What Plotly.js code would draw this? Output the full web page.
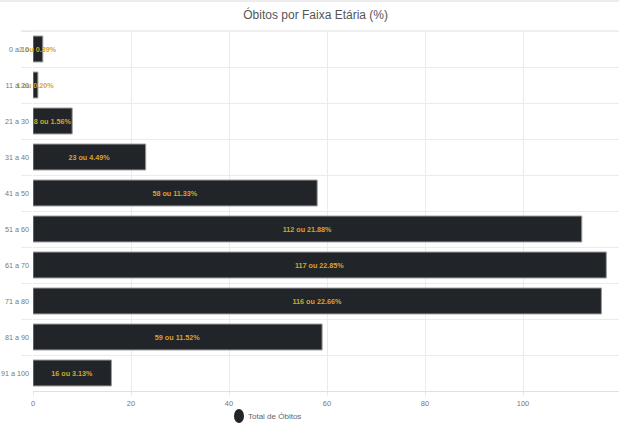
<!DOCTYPE html>
<html>
<head>
<meta charset="utf-8">
<script src="https://cdn.plot.ly/plotly-3.0.1.min.js"></script>
<style>
html,body{margin:0;padding:0;overflow:hidden;background:#fff;width:619px;height:435px;}
#chart{width:625px;height:435px;}
</style>
</head>
<body>
<div id="chart"></div>
<script>
const categories = ["0 a 10","11 a 20","21 a 30","31 a 40","41 a 50","51 a 60","61 a 70","71 a 80","81 a 90","91 a 100"];
const deaths = [2, 1, 8, 23, 58, 112, 117, 116, 59, 16];
const percents = ["0.39","0.20","1.56","4.49","11.33","21.88","22.85","22.66","11.52","3.13"];
const xTicks = [0, 20, 40, 60, 80, 100, 120];
const seriesName = "Total de Óbitos";

const FONT = "'Liberation Sans', Arial, sans-serif";

const traces = [
  {
    type: 'bar',
    orientation: 'h',
    y: categories,
    x: deaths,
    customdata: percents,
    texttemplate: '%{x} ou %{customdata}%',
    textposition: 'inside',
    insidetextanchor: 'middle',
    textangle: 0,
    constraintext: 'none',
    cliponaxis: false,
    textfont: {family: FONT, size: 7.2, color: '#d7a626', weight: 'bold'},
    marker: {color: '#212428', line: {color: '#9a9a9a', width: 1}},
    showlegend: false,
    hoverinfo: 'none'
  }
];

const layout = {
  width: 625,
  height: 435,
  margin: {l: 33, r: 4, t: 31, b: 44},
  paper_bgcolor: '#fff',
  plot_bgcolor: '#fff',
  font: {family: FONT, color: '#666'},
  title: {
    text: 'Óbitos por Faixa Etária (%)',
    font: {family: FONT, size: 12, color: '#555'},
    x: 0.505, xanchor: 'center',
    y: 0.965, yanchor: 'middle'
  },
  bargap: 0.28,
  xaxis: {
    range: [0, 120],
    tickvals: xTicks,
    ticktext: xTicks.map(String),
    showgrid: true,
    gridcolor: '#ebebeb',
    zeroline: false,
    showline: true,
    linecolor: '#e0e0e0',
    ticks: 'outside',
    ticklen: 4,
    tickcolor: '#ebebeb',
    ticklabelstandoff: 1,
    tickfont: {family: FONT, size: 7.5, color: '#777'},
    fixedrange: true
  },
  yaxis: {
    type: 'category',
    autorange: 'reversed',
    tickson: 'boundaries',
    showgrid: true,
    gridcolor: '#ebebeb',
    showline: false,
    ticks: 'outside',
    ticklen: 11,
    tickcolor: '#ebebeb',
    ticklabelstandoff: 3,
    tickfont: {family: FONT, size: 7.2, color: '#777'},
    fixedrange: true
  },
  showlegend: false,
  annotations: [
    {xref: 'paper', yref: 'paper', x: (246-33)/588, y: -25/360, xanchor: 'left', yanchor: 'middle',
     text: seriesName, showarrow: false, font: {family: FONT, size: 8, color: '#666'}}
  ],
  shapes: [
    {type: 'line', xref: 'paper', yref: 'paper', x0: -0.02, x1: 1, y0: 1, y1: 1, line: {color: '#e0e0e0', width: 1}},
    {type: 'rect', xref: 'paper', yref: 'paper', x0: -0.1, x1: 1.1, y0: 1.0805, y1: 1.1, line: {width: 0}, fillcolor: '#ececec'},
    {type: 'circle', xref: 'paper', yref: 'paper',
     x0: (234-33)/588, x1: (244-33)/588, y0: -(423-391)/360, y1: -(409-391)/360,
     fillcolor: '#212428', line: {width: 0}}
  ]
};

Plotly.newPlot('chart', traces, layout, {displayModeBar: false, staticPlot: true});
</script>
</body>
</html>
